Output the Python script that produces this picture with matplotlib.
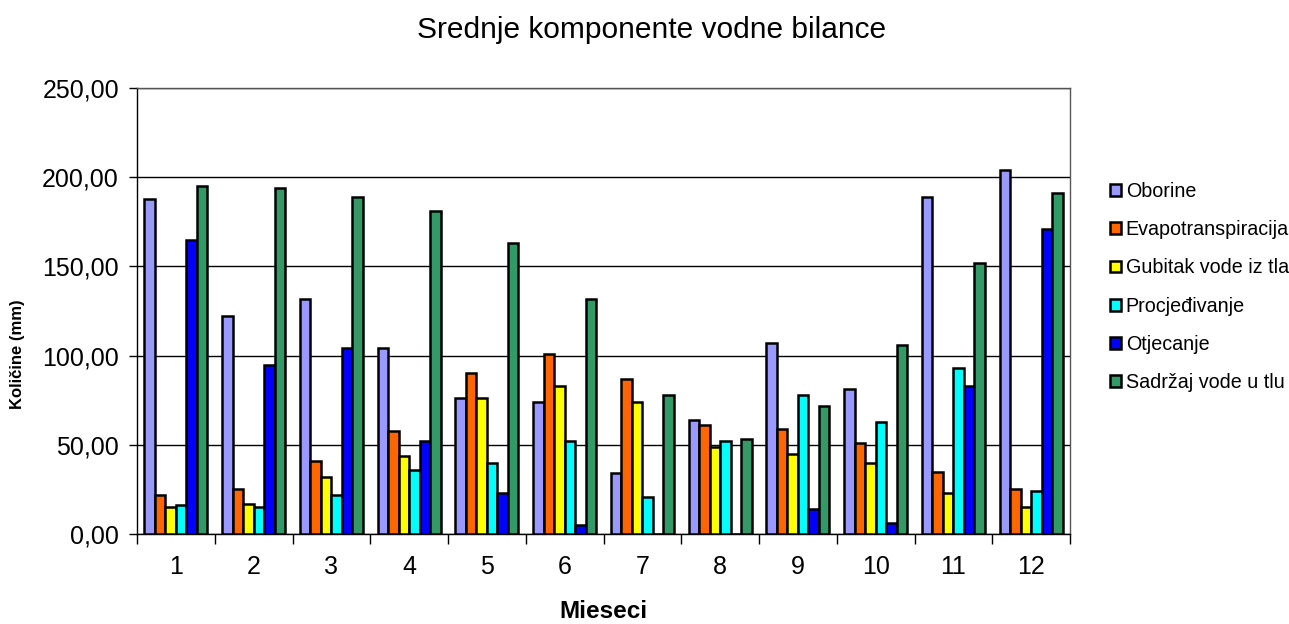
import matplotlib
matplotlib.use("Agg")
import matplotlib.pyplot as plt
import numpy as np
from matplotlib.ticker import FuncFormatter, FixedLocator

plt.rcParams['font.family'] = ['Liberation Sans', 'DejaVu Sans']

months = [str(i) for i in range(1, 13)]
series_names = ["Oborine", "Evapotranspiracija", "Gubitak vode iz tla",
                "Procjeđivanje", "Otjecanje", "Sadržaj vode u tlu"]
oborine = [188, 122, 132, 104, 76, 74, 34, 64, 107, 81, 189, 204]
evapotranspiracija = [22, 25, 41, 58, 90, 101, 87, 61, 59, 51, 35, 25]
gubitak = [15, 17, 32, 44, 76, 83, 74, 49, 45, 40, 23, 15]
procjedivanje = [16, 15, 22, 36, 40, 52, 21, 52, 78, 63, 93, 24]
otjecanje = [165, 95, 104, 52, 23, 5, 0, 0, 14, 6, 83, 171]
sadrzaj = [195, 194, 189, 181, 163, 132, 78, 53, 72, 106, 152, 191]
colors = ["#9999FF", "#FF6600", "#FFFF00", "#00FFFF", "#0000FF", "#339966"]

data = [oborine, evapotranspiracija, gubitak, procjedivanje, otjecanje, sadrzaj]

fig = plt.figure(figsize=(12.89, 6.24), dpi=100)
ax = fig.add_axes([137/1289, 1-534/624, (1070-137)/1289, (534-88)/624])

x = np.arange(len(months))
w = 0.135
for i, (vals, c, name) in enumerate(zip(data, colors, series_names)):
    ax.bar(x + (i - 2.5) * w, vals, width=w, color=c, edgecolor='black',
           linewidth=1.8, label=name, zorder=3)

ax.set_xlim(-0.5, 11.5)
ax.set_ylim(0, 250)
ax.set_yticks([0, 50, 100, 150, 200, 250])
ax.yaxis.set_major_formatter(FuncFormatter(lambda v, p: f"{v:.2f}".replace('.', ',')))
ax.yaxis.grid(True, color='black', linewidth=1.0, zorder=0)
ax.set_axisbelow(True)

ax.set_xticks(x)
ax.set_xticklabels(months)
ax.tick_params(axis='x', which='major', length=0, labelsize=18, pad=15)
ax.xaxis.set_minor_locator(FixedLocator(np.arange(-0.5, 12, 1.0)))
ax.tick_params(axis='x', which='minor', length=7, width=1, direction='out')
ax.tick_params(axis='y', length=6, width=1, direction='out', labelsize=18, pad=7)

for s in ax.spines.values():
    s.set_color('#555555')
    s.set_linewidth(1.0)
ax.spines['bottom'].set_color('black')
ax.spines['left'].set_color('black')

ax.set_xlabel("Mieseci", fontsize=17.5, fontweight='bold', labelpad=15)
fig.text(18/1289, 1-354/624, "Količine (mm)", rotation=90, fontsize=12,
         fontweight='bold', ha='center', va='center')

fig.text(652/1289, 1-30/624, "Srednje komponente vodne bilance", fontsize=21.5,
         ha='center', va='center')

leg = ax.legend(loc='center left', bbox_to_anchor=(1110/1289, 1-287/624),
                bbox_transform=fig.transFigure, frameon=False, fontsize=14.2,
                handlelength=0.55, handleheight=0.55, handletextpad=0.25,
                labelspacing=0.97, borderaxespad=0, borderpad=0)

fig.savefig("out.png", dpi=100)
